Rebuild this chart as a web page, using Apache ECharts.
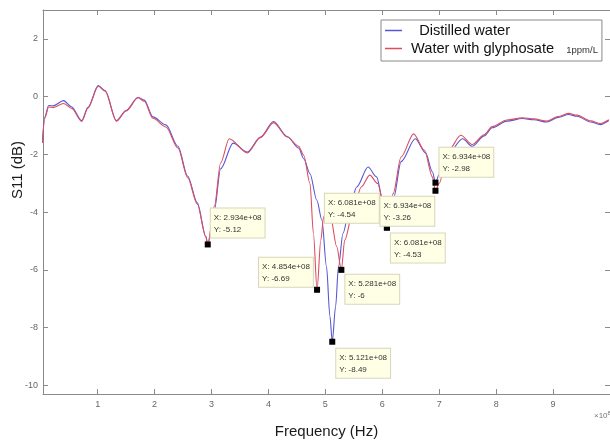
<!DOCTYPE html>
<html>
<head>
<meta charset="utf-8">
<script src="https://cdn.jsdelivr.net/npm/echarts@6/dist/echarts.min.js"></script>
<style>
html, body { margin: 0; padding: 0; background: #fff; }
#chart { width: 610px; height: 444px; }
</style>
</head>
<body>
<div id="chart"></div>
<script>
// Frequencies are in units of 1e8 Hz (the axis shows the x10^8 multiplier)
const freqDistilled = [0.03, 0.07, 0.14, 0.22, 0.40, 0.54, 0.72, 0.83, 1.01, 1.13, 1.33, 1.50, 1.71, 1.82, 1.97,
    2.20, 2.41, 2.58, 2.75, 2.90, 2.934, 3.05, 3.16, 3.38, 3.63, 3.86, 4.09, 4.33, 4.53, 4.62, 4.73, 4.85, 4.94,
    5.02, 5.08, 5.121, 5.18, 5.23, 5.31, 5.43, 5.55, 5.75, 5.90, 6.01, 6.081, 6.20, 6.33, 6.58, 6.76, 6.88, 6.934,
    7.00, 7.15, 7.41, 7.58, 7.79, 7.93, 8.19, 8.46, 8.66, 8.89, 9.09, 9.27, 9.42, 9.66, 9.83, 9.98];
const s11Distilled = [-1.6, -0.71, -0.31, -0.32, -0.14, -0.35, -0.83, -0.37, 0.38, 0.21, -0.83, -0.48, -0.02, -0.12, -0.70,
    -0.98, -1.72, -2.75, -3.68, -4.85, -5.12, -3.93, -2.5, -1.61, -1.92, -1.40, -0.86, -1.38, -1.78, -2.15, -2.67, -3.59, -4.28,
    -5.89, -7.61, -8.49, -7.27, -5.89, -4.73, -3.82, -3.13, -2.44, -2.78, -3.59, -4.54, -3.5, -2.25, -1.46, -1.95, -2.6, -2.98,
    -2.7, -2.0, -1.46, -1.72, -1.36, -1.08, -0.85, -0.76, -0.80, -0.88, -0.72, -0.62, -0.68, -0.88, -0.97, -0.83];

const freqGlyphosate = [0.03, 0.07, 0.14, 0.22, 0.40, 0.54, 0.72, 0.83, 1.01, 1.13, 1.33, 1.50, 1.71, 1.82, 1.97,
    2.20, 2.41, 2.58, 2.75, 2.90, 2.934, 3.05, 3.16, 3.31, 3.63, 3.86, 4.09, 4.33, 4.53, 4.62, 4.73, 4.79, 4.854,
    4.92, 4.97, 5.02, 5.09, 5.20, 5.281, 5.34, 5.49, 5.63, 5.78, 5.92, 6.04, 6.081, 6.19, 6.33, 6.55, 6.74, 6.88,
    6.934, 7.00, 7.15, 7.38, 7.58, 7.79, 7.93, 8.19, 8.46, 8.66, 8.89, 9.09, 9.27, 9.42, 9.66, 9.83, 9.98];
const s11Glyphosate = [-1.6, -0.75, -0.36, -0.38, -0.24, -0.40, -0.86, -0.40, 0.36, 0.19, -0.85, -0.50, -0.04, -0.16, -0.75,
    -1.05, -1.78, -2.8, -3.72, -4.85, -5.12, -3.8, -2.3, -1.46, -1.95, -1.42, -0.9, -1.40, -1.72, -2.03, -3.01, -4.73, -6.69,
    -4.97, -4.16, -3.99, -4.16, -5.2, -6, -4.97, -3.93, -3.13, -2.72, -3.01, -3.93, -4.53, -3.36, -2.09, -1.29, -1.86, -2.78,
    -3.26, -3.0, -1.9, -1.34, -1.66, -1.32, -1.04, -0.81, -0.73, -0.77, -0.85, -0.69, -0.58, -0.64, -0.84, -0.93, -0.8];

const seriesNames = ["Distilled water", "Water with glyphosate"];
const xTicks = [1, 2, 3, 4, 5, 6, 7, 8, 9];
const yTicks = [-10, -8, -6, -4, -2, 0, 2];

// Data tips (MATLAB datatips): position, value, owning series
const tipFreq = [2.934, 4.854, 5.121, 5.281, 6.081, 6.081, 6.934, 6.934];
const tipS11 = [-5.12, -6.69, -8.49, -6, -4.54, -4.53, -3.26, -2.98];
const tipSeries = [0, 1, 0, 1, 0, 1, 1, 0];
// Offset of each tip box (top-left corner) from its marker, in pixels
const tipOffsets = [[6, -33], [-55, -29], [7, 10], [7, 8], [-59, -31], [7, 9], [-52, 9], [7, -32]];

const colors = ["#5656d4", "#dc4e5e"];
const axisGray = "#8a8a8a";
const sansFont = "'Liberation Sans', Arial, sans-serif";

function toPairs(freq, values)
{
    return freq.map((f, i) => [f, values[i]]);
}

function tipText(f, y)
{
    const x = (f * 1e8).toExponential(3).replace("e+8", "e+08");
    return "X: " + x + "\nY: " + y;
}

// Datatips for one series, as markPoint entries
function tipsFor(seriesIndex)
{
    const tips = [];
    tipFreq.forEach((f, i) =>
    {
        if (tipSeries[i] !== seriesIndex)
            return;
        tips.push({
            coord: [f, tipS11[i]],
            label: {
                formatter: tipText(f, tipS11[i]),
                position: tipOffsets[i]
            }
        });
    });
    return tips;
}

function makeXAxis(position, showLabels)
{
    return {
        type: "value",
        position,
        min: 0.04,
        max: 10,
        axisLine: { show: true, onZero: false, lineStyle: { color: axisGray, width: 1 } },
        axisTick: { show: true, inside: true, length: 5, customValues: xTicks, lineStyle: { color: axisGray } },
        axisLabel: { show: showLabels, customValues: xTicks, color: "#666", fontSize: 9, margin: 6, fontFamily: sansFont },
        splitLine: { show: false },
        name: showLabels ? "Frequency (Hz)" : "",
        nameLocation: "middle",
        nameGap: 30,
        nameTextStyle: { color: "#1a1a1a", fontSize: 15, fontFamily: sansFont }
    };
}

function makeYAxis(position, showLabels)
{
    return {
        type: "value",
        position,
        min: -10.3,
        max: 3,
        axisLine: { show: true, onZero: false, lineStyle: { color: axisGray, width: 1 } },
        axisTick: { show: true, inside: true, length: 5, customValues: yTicks, lineStyle: { color: axisGray } },
        axisLabel: { show: showLabels, customValues: yTicks, color: "#666", fontSize: 9, margin: 5, fontFamily: sansFont },
        splitLine: { show: false }
    };
}

function makeSeries(index, freq, values)
{
    return {
        name: seriesNames[index],
        type: "line",
        data: toPairs(freq, values),
        showSymbol: false,
        smooth: 0.3,
        smoothMonotone: "x",
        lineStyle: { color: colors[index], width: 1.1 },
        itemStyle: { color: colors[index] },
        markPoint: {
            symbol: "rect",
            symbolSize: 6,
            itemStyle: { color: "#000" },
            label: {
                show: true,
                align: "left",
                verticalAlign: "top",
                color: "#333",
                fontSize: 8,
                lineHeight: 12,
                fontFamily: sansFont,
                backgroundColor: "#ffffe6",
                borderColor: "#d6d6bc",
                borderWidth: 1,
                padding: [3, 3, 2, 3]
            },
            data: tipsFor(index)
        }
    };
}

const chart = echarts.init(document.getElementById("chart"));

chart.setOption({
    animation: false,
    backgroundColor: "#fff",
    grid: { left: 43, top: 10, width: 570, height: 384 },
    xAxis: [makeXAxis("bottom", true), makeXAxis("top", false)],
    yAxis: [makeYAxis("left", true), makeYAxis("right", false)],
    legend: {
        data: seriesNames,
        orient: "vertical",
        left: 381,
        top: 20,
        icon: "rect",
        itemWidth: 17,
        itemHeight: 1.5,
        itemGap: 3,
        padding: [3, 4, 5, 4],
        backgroundColor: "#fff",
        borderColor: "#8a8a8a",
        borderWidth: 1,
        formatter: (name) => name === seriesNames[1] ? " " + name + "   {s|1ppm/L}" : "   " + name,
        textStyle: {
            color: "#111",
            fontSize: 14.6,
            fontFamily: sansFont,
            rich: { s: { fontSize: 9.5, color: "#333", fontFamily: sansFont, padding: [4, 0, 0, 0] } }
        }
    },
    graphic: [
        {
            type: "text",
            x: 18,
            y: 170,
            rotation: Math.PI / 2,
            style: {
                text: "S11 (dB)",
                fill: "#1a1a1a",
                fontSize: 15,
                fontFamily: sansFont,
                align: "center",
                verticalAlign: "middle"
            }
        },
        {
            type: "text",
            x: 594,
            y: 410,
            style: {
                text: "\u00d710{sup|8}",
                fill: "#777",
                fontSize: 8,
                fontFamily: sansFont,
                rich: { sup: { fontSize: 6, fill: "#777", padding: [0, 0, 5, 0] } }
            }
        }
    ],
    series: [
        makeSeries(0, freqDistilled, s11Distilled),
        makeSeries(1, freqGlyphosate, s11Glyphosate)
    ]
});
</script>
</body>
</html>
